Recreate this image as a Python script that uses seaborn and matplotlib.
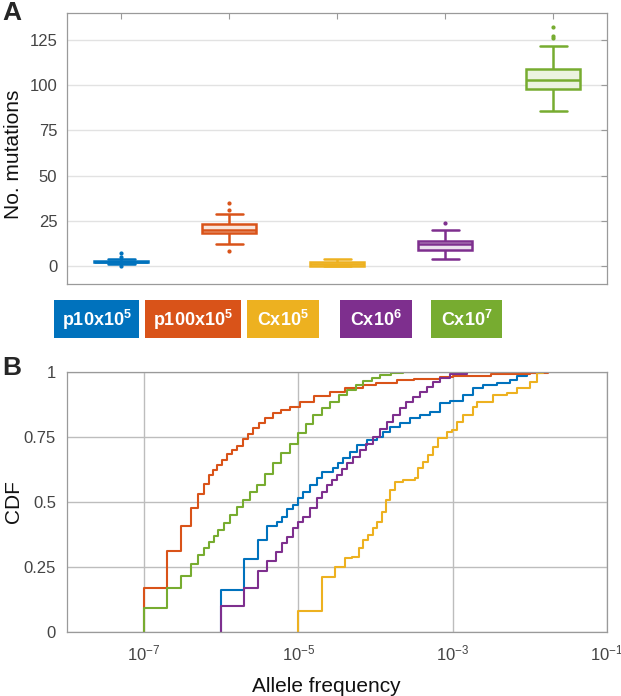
import numpy as np
import pandas as pd
import seaborn as sns
import matplotlib.pyplot as plt
from matplotlib.patches import Rectangle
from matplotlib.colors import to_rgb

# groups and their colours
groups = ['p10x10^5', 'p100x10^5', 'Cx10^5', 'Cx10^6', 'Cx10^7']
group_labels = [r'$\mathbf{p10x10^5}$', r'$\mathbf{p100x10^5}$', r'$\mathbf{Cx10^5}$',
                r'$\mathbf{Cx10^6}$', r'$\mathbf{Cx10^7}$']
colors = ['#0072BD', '#D95319', '#EDB120', '#7E2F8E', '#77AC30']

# A: number of mutations per run
mut_p10 = [0, 1, 1, 2, 2, 2, 2, 3, 3, 3, 4, 5, 7]
mut_p100 = [8, 12, 16, 18, 19, 19, 20, 21, 22, 23, 29, 31, 35]
mut_cx5 = [0, 0, 0, 0, 1, 1, 1, 1, 1, 2, 2, 3, 4]
mut_cx6 = [4, 6, 8, 9, 10, 11, 12, 12, 13, 14, 16, 20, 24]
mut_cx7 = [86, 90, 94, 96, 98, 100, 101, 102, 103, 104, 105, 107, 109, 122, 126, 127, 132]

# B: CDF of allele frequency, log10(frequency) and cdf value after each step
p10_logf = [-6.004, -6.004, -5.702, -5.529, -5.403, -5.282, -5.217, -5.152, -5.066, -5.001,
            -4.937, -4.850, -4.764, -4.699, -4.548, -4.483, -4.418, -4.331, -4.245, -4.115,
            -3.985, -3.899, -3.813, -3.683, -3.554, -3.424, -3.294, -3.165, -3.035, -2.862,
            -2.733, -2.603, -2.430, -2.257, -2.170, -2.041, -1.868]
p10_cdf = [0, 0.160, 0.281, 0.354, 0.409, 0.424, 0.444, 0.472, 0.488, 0.514,
           0.540, 0.565, 0.591, 0.617, 0.630, 0.649, 0.668, 0.693, 0.719, 0.738,
           0.751, 0.770, 0.790, 0.803, 0.822, 0.835, 0.847, 0.880, 0.888, 0.912,
           0.937, 0.950, 0.956, 0.969, 0.986, 0.995, 1.0]

p100_logf = [-7.0, -7.0, -6.708, -6.526, -6.396, -6.298, -6.224, -6.155, -6.103, -6.052,
             -5.995, -5.930, -5.865, -5.800, -5.714, -5.650, -5.585, -5.510, -5.433, -5.326,
             -5.220, -5.109, -4.980, -4.800, -4.591, -4.400, -4.159, -4.000, -3.726, -3.500,
             -3.165, -2.996, -2.500, -2.000, -1.761]
p100_cdf = [0, 0.170, 0.313, 0.406, 0.476, 0.530, 0.569, 0.604, 0.623, 0.642,
            0.662, 0.683, 0.700, 0.715, 0.742, 0.762, 0.783, 0.803, 0.822, 0.841,
            0.855, 0.866, 0.886, 0.906, 0.924, 0.937, 0.950, 0.957, 0.969, 0.975,
            0.981, 0.986, 0.992, 0.997, 1.0]

cx5_logf = [-5.001, -5.001, -4.699, -4.526, -4.396, -4.309, -4.211, -4.159, -4.094, -4.029,
            -3.977, -3.920, -3.865, -3.813, -3.748, -3.640, -3.489, -3.446, -3.381, -3.316,
            -3.251, -3.186, -3.078, -3.013, -2.949, -2.862, -2.733, -2.689, -2.474, -2.300,
            -2.170, -1.998, -1.911, -1.825]
cx5_cdf = [0, 0.081, 0.213, 0.251, 0.283, 0.290, 0.322, 0.354, 0.373, 0.399,
           0.424, 0.463, 0.508, 0.546, 0.578, 0.585, 0.591, 0.630, 0.655, 0.681,
           0.713, 0.745, 0.770, 0.777, 0.809, 0.835, 0.867, 0.886, 0.912, 0.918,
           0.937, 0.963, 0.995, 1.0]

cx6_logf = [-6.004, -6.004, -5.702, -5.529, -5.403, -5.295, -5.217, -5.152, -5.066, -5.001,
            -4.937, -4.850, -4.764, -4.700, -4.634, -4.570, -4.505, -4.440, -4.375, -4.290,
            -4.202, -4.120, -4.029, -3.940, -3.857, -3.770, -3.683, -3.600, -3.511, -3.420,
            -3.338, -3.250, -3.165, -3.035, -2.818]
cx6_cdf = [0, 0.101, 0.168, 0.236, 0.273, 0.309, 0.341, 0.367, 0.399, 0.424,
           0.444, 0.476, 0.514, 0.540, 0.565, 0.585, 0.604, 0.627, 0.649, 0.675,
           0.700, 0.725, 0.751, 0.780, 0.809, 0.835, 0.860, 0.883, 0.905, 0.925,
           0.943, 0.960, 0.976, 0.991, 1.0]

cx7_logf = [-7.0, -7.0, -6.700, -6.526, -6.396, -6.298, -6.224, -6.155, -6.094, -6.039,
            -5.960, -5.887, -5.800, -5.714, -5.630, -5.541, -5.430, -5.326, -5.220, -5.109,
            -5.000, -4.900, -4.807, -4.700, -4.591, -4.480, -4.375, -4.260, -4.159, -4.050,
            -3.942, -3.800, -3.650, -3.489]
cx7_cdf = [0, 0.094, 0.168, 0.217, 0.262, 0.296, 0.324, 0.347, 0.371, 0.392,
           0.420, 0.450, 0.480, 0.508, 0.537, 0.565, 0.607, 0.649, 0.690, 0.725,
           0.764, 0.800, 0.835, 0.862, 0.886, 0.910, 0.931, 0.950, 0.965, 0.978,
           0.988, 0.996, 0.999, 1.0]

mutations = [mut_p10, mut_p100, mut_cx5, mut_cx6, mut_cx7]
cdf_logf = [p10_logf, p100_logf, cx5_logf, cx6_logf, cx7_logf]
cdf_vals = [p10_cdf, p100_cdf, cx5_cdf, cx6_cdf, cx7_cdf]

sns.set_theme(style='white')
plt.rcParams['font.family'] = ['Liberation Sans', 'DejaVu Sans']
plt.rcParams['mathtext.fontset'] = 'custom'
plt.rcParams['mathtext.rm'] = 'Liberation Sans'
plt.rcParams['mathtext.bf'] = 'Liberation Sans:bold'

W, H = 621, 696
fig = plt.figure(figsize=(W / 100, H / 100), dpi=100)
axA = fig.add_axes([67 / W, 1 - 284 / H, 540 / W, 271 / H])
axB = fig.add_axes([67 / W, 1 - 632 / H, 540 / W, 260 / H])

spine_col = '#9a9a9a'
tick_col = '#444444'

# ---- panel A: box plots
box_df = pd.DataFrame({
    'group': np.repeat(groups, [len(v) for v in mutations]),
    'mutations': np.concatenate(mutations),
})
for g, col in zip(groups, colors):
    light = tuple(0.85 + 0.15 * c for c in to_rgb(col))
    sns.boxplot(data=box_df[box_df['group'] == g], x='group', y='mutations', order=groups,
                color=light, linecolor=col, saturation=1, width=0.5, linewidth=1.8,
                flierprops=dict(marker='o', markersize=2, markerfacecolor=col,
                                markeredgecolor=col),
                ax=axA)

axA.set_xlim(-0.5, 4.5)
axA.set_ylim(-10, 140)
axA.set_yticks([0, 25, 50, 75, 100, 125])
axA.set_xticklabels([])
axA.set_xlabel('')
axA.set_ylabel('No. mutations', fontsize=15, color='#111111')
axA.yaxis.set_label_coords(-0.082, 0.48)
axA.yaxis.grid(True, color='#e2e2e2', lw=1)
axA.xaxis.grid(False)
axA.set_axisbelow(True)
axA.tick_params(direction='in', top=True, right=True, length=4, width=0.8,
                color=spine_col, labelcolor=tick_col, labelsize=12, pad=7)
for s in axA.spines.values():
    s.set_color(spine_col)
    s.set_linewidth(0.9)

# coloured group labels under panel A
boxes_px = [(54, 139), (145, 241), (247, 319), (340, 412), (431, 502)]
for (x0, x1), lab, col in zip(boxes_px, group_labels, colors):
    fig.add_artist(Rectangle((x0 / W, 1 - 338 / H), (x1 - x0) / W, 38 / H,
                             transform=fig.transFigure, facecolor=col, edgecolor='none'))
    fig.text((x0 + x1) / 2 / W, 1 - 320 / H, lab, color='white', fontsize=13,
             ha='center', va='center')

# ---- panel B: CDFs
cdf_df = pd.concat([
    pd.DataFrame({'group': g, 'freq': 10.0 ** np.array(lf), 'cdf': cv})
    for g, lf, cv in zip(groups, cdf_logf, cdf_vals)
])
axB.set_xscale('log')
sns.lineplot(data=cdf_df, x='freq', y='cdf', hue='group', hue_order=groups, palette=colors,
             estimator=None, sort=False, drawstyle='steps-post', linewidth=1.5,
             legend=False, ax=axB)
axB.set_xlim(1e-8, 1e-1)
axB.set_ylim(0, 1)
xt = [1e-7, 1e-5, 1e-3, 1e-1]
axB.set_xticks(xt)
axB.set_xticklabels([r'$\mathregular{10^{-7}}$', r'$\mathregular{10^{-5}}$',
                     r'$\mathregular{10^{-3}}$', r'$\mathregular{10^{-1}}$'])
axB.xaxis.set_minor_locator(plt.NullLocator())
axB.set_yticks([0, 0.25, 0.5, 0.75, 1])
axB.set_yticklabels(['0', '0.25', '0.5', '0.75', '1'])
axB.grid(True, color='#bdbdbd', lw=1)
axB.set_axisbelow(True)
axB.tick_params(direction='in', length=4, width=0.8, color=spine_col,
                labelcolor=tick_col, labelsize=12, pad=8)
axB.set_xlabel('Allele frequency', fontsize=15, color='#111111')
axB.xaxis.set_label_coords(0.48, -0.175)
axB.set_ylabel('CDF', fontsize=15, color='#111111')
axB.yaxis.set_label_coords(-0.082, 0.5)
for s in axB.spines.values():
    s.set_color(spine_col)
    s.set_linewidth(0.9)

fig.text(2 / W, 1 - 1 / H, 'A', fontsize=19, weight='bold', va='top', ha='left')
fig.text(2 / W, 1 - 356 / H, 'B', fontsize=19, weight='bold', va='top', ha='left')

fig.savefig('out.png', dpi=100)
